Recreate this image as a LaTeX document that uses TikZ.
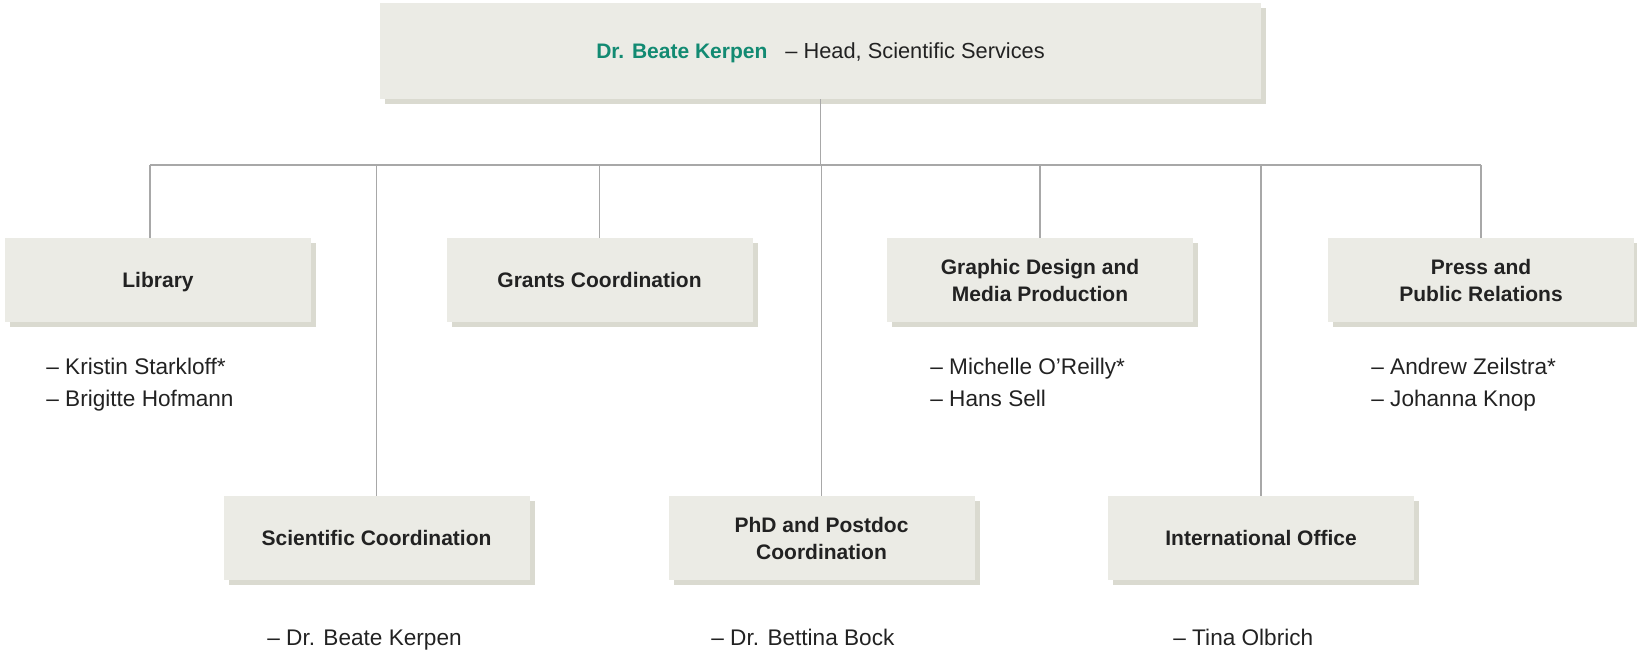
\documentclass[tikz,border=0pt]{standalone}
\usepackage{fontspec}
\setmainfont{Liberation Sans}
\usepackage{tikz}
\usepackage{xcolor}
\usetikzlibrary{calc,shadows}
\definecolor{boxfill}{HTML}{EBEBE5}
\definecolor{boxshade}{HTML}{DADAD0}
\definecolor{headgreen}{HTML}{128A72}
\definecolor{linegray}{HTML}{A8A8A8}
\definecolor{textdark}{HTML}{222222}
\tikzstyle{unitbox} =[
    fill=boxfill,
    text=textdark,
    font=\bfseries\fontsize{10.5}{13.5}\selectfont,
    align=center,
    text depth=0pt,
    minimum width=153pt,
    minimum height=42pt,
    inner sep=0pt,
    drop shadow={shadow xshift=2.5pt,shadow yshift=-2.5pt,fill=boxshade,opacity=1}
    ]
\tikzstyle{headbox} =[
    unitbox,
    font=\fontsize{10.9}{13.5}\selectfont,
    minimum width=440.5pt,
    minimum height=48pt
    ]
\tikzstyle{staff} =[
    text=textdark,
    font=\fontsize{11.3}{16}\selectfont,
    align=left,
    anchor=base west,
    inner sep=0pt
    ]
\tikzstyle{conn} =[
    draw=linegray,
    line width=0.6pt
    ]

\begin{document}
\begin{tikzpicture}[x=0.5pt,y=-0.5pt]
\useasboundingbox (0,0) rectangle (1637,652);
\coordinate (bus) at (820.5,165);

\node [headbox] (head) at (820.5,51) {%
    {\bfseries\fontsize{10.5}{13.5}\selectfont\color{headgreen}Dr. Beate Kerpen}\hspace{9pt}-- Head, Scientific Services};

% first row
\node [unitbox] (lib) at (158,280) {Library};
\node [unitbox] (grants) at (599.5,280) {Grants Coordination};
\node [unitbox] (graphic) at (1040,280) {Graphic Design and\\Media Production};
\node [unitbox] (press) at (1481,280) {Press and\\Public Relations};

% second row
\node [unitbox] (sci) at (376.5,538) {Scientific Coordination};
\node [unitbox] (phd) at (821.5,538) {PhD and Postdoc\\Coordination};
\node [unitbox] (intl) at (1261,538) {International Office};

% tree lines
\coordinate (libtop) at ($(lib.north)+(-8,0)$);
\draw [conn] (head.south) -- (bus);
\draw [conn] (libtop |- bus) -- (press.north |- bus);
\draw [conn] (libtop |- bus) -- (libtop);
\foreach \u in {grants,graphic,press,sci,phd,intl}
    \draw [conn] (\u.north |- bus) -- (\u.north);

% staff
\node [staff] (libstaff) at (46,406) {-- Kristin Starkloff*\\-- Brigitte Hofmann};
\node [staff] (graphicstaff) at (930,406) {-- Michelle O'Reilly*\\-- Hans Sell};
\node [staff] (pressstaff) at (1371,406) {-- Andrew Zeilstra*\\-- Johanna Knop};
\node [staff] (scistaff) at (267,645) {-- Dr. Beate Kerpen};
\node [staff] (phdstaff) at (711,645) {-- Dr. Bettina Bock};
\node [staff] (intlstaff) at (1173,645) {-- Tina Olbrich};
\end{tikzpicture}
\end{document}
